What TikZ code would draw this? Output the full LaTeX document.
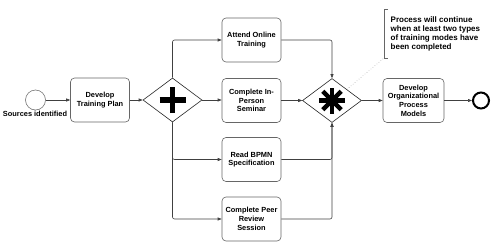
\documentclass[tikz,border=0pt]{standalone}
\usepackage{fontspec}
\setmainfont{Liberation Sans}
\usetikzlibrary{shapes.geometric,arrows.meta,calc}
\begin{document}
\begin{tikzpicture}[x=1pt,y=-1pt,
  task/.style={draw=black!60,rounded corners=4pt,fill=white,minimum width=59pt,minimum height=44pt,inner sep=1pt,align=center,font=\fontsize{7.4}{8.7}\selectfont\bfseries,line width=0.6pt},
  gate/.style={draw=black!85,diamond,minimum width=59pt,minimum height=44pt,inner sep=0pt,line width=0.6pt,fill=white},
  flow/.style={draw=black!75,line width=0.6pt,-{Triangle[length=4pt,width=3pt]},rounded corners=2pt},
  lbl/.style={font=\fontsize{7.4}{8.7}\selectfont\bfseries,inner sep=0pt},
]
\useasboundingbox (0,0) rectangle (495,247);
\node[circle,draw=black!55,minimum size=20pt,inner sep=0pt,line width=0.6pt] (start) at (35.5,100) {};
\node[lbl] (startlbl) at (35,114) {Sources identified};
\node[task] (plan) at (100,100) {Develop\\Training Plan};
\node[gate] (g1) at (172.5,100) {};
\node[task] (online) at (251.5,40) {Attend Online\\Training};
\node[task] (seminar) at (251.5,100.5) {Complete In-\\Person\\Seminar};
\node[task] (read) at (251.5,159.5) {Read BPMN\\Specification};
\node[task] (peer) at (251.5,219) {Complete Peer\\Review\\Session};
\node[gate] (g2) at (332,100.5) {};
\node[task,minimum width=61pt] (models) at (413.5,100.5) {Develop\\Organizational\\Process\\Models};
\node[circle,draw=black,line width=2pt,minimum size=16pt,inner sep=0pt] (end) at (481,100.5) {};
% gateway markers
\draw[line width=5.5pt] ([xshift=-13pt]g1.center) -- ([xshift=13pt]g1.center);
\draw[line width=5.5pt] ([yshift=-13pt]g1.center) -- ([yshift=13pt]g1.center);
\foreach \a in {0,45,90,135}
  \draw[line width=4.5pt,shift={(g2.center)},rotate=\a] (-13pt,0) -- (13pt,0);
% flows
\draw[flow] (start) -- (plan);
\draw[flow] (plan) -- (g1);
\draw[flow] (g1.east) -- (seminar.west |- g1.east);
\draw[flow] (g1.north) |- (online.west);
\draw[flow] (g1.south) |- (read.west);
\draw[flow] (g1.south) |- (peer.west);
\draw[flow] (online.east) -| (g2.north);
\draw[flow] (seminar.east) -- (g2.west);
\draw[flow] (read.east) -| (g2.south);
\draw[flow] (peer.east) -| (g2.south);
\draw[flow] (g2.east) -- (models.west);
\draw[flow] (models.east) -- (end.west);
% annotation
\node[anchor=west,align=left,font=\fontsize{8}{9.1}\selectfont\bfseries,inner sep=0pt] (note) at (390.5,33.7) {Process will continue\\when at least two types\\of training modes have\\been completed};
\coordinate (bt) at (384,9);
\coordinate (bb) at (384,58);
\draw[black!60,line width=0.6pt] ([xshift=4pt]bt) -- (bt) -- (bb) -- ([xshift=4pt]bb);
\draw[black!35,dotted,line width=0.6pt] ($(g2.north)!0.5!(g2.east)$) -- (bb);
\end{tikzpicture}
\end{document}
